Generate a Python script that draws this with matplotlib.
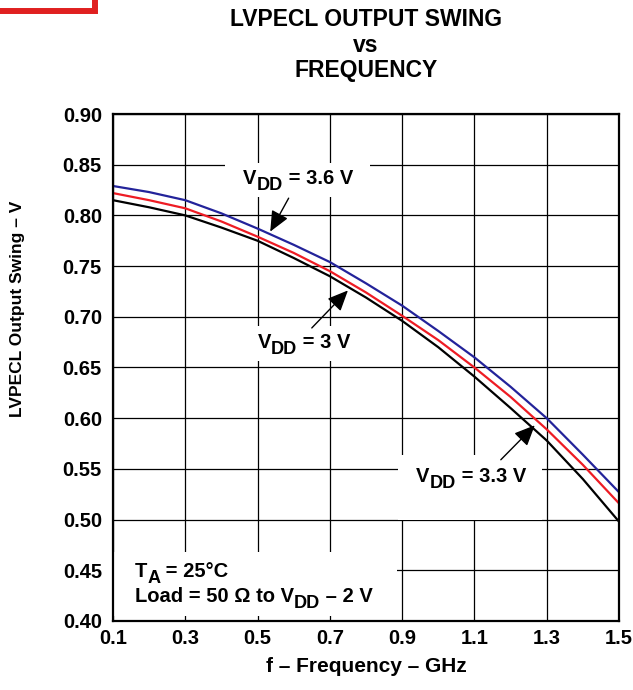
import matplotlib
matplotlib.use('Agg')
import matplotlib.pyplot as plt
import matplotlib.transforms as mtransforms
from matplotlib.patches import Rectangle

plt.rcParams['font.family'] = ['Liberation Sans', 'DejaVu Sans']
plt.rcParams['font.weight'] = 'bold'

# frequency (GHz) and output swing (V)
freq = [0.1, 0.2, 0.3, 0.4, 0.5, 0.6, 0.7, 0.8, 0.9, 1.0, 1.1, 1.2, 1.3, 1.4, 1.5]
swing_36 = [0.829, 0.823, 0.815, 0.802, 0.787, 0.771, 0.754, 0.733, 0.711,
            0.686, 0.660, 0.631, 0.600, 0.564, 0.527]
swing_33 = [0.822, 0.815, 0.807, 0.794, 0.779, 0.763, 0.745, 0.724, 0.701,
            0.677, 0.650, 0.621, 0.589, 0.554, 0.516]
swing_30 = [0.815, 0.808, 0.800, 0.788, 0.775, 0.758, 0.740, 0.719, 0.696,
            0.670, 0.641, 0.610, 0.578, 0.540, 0.498]

x_ticks = [0.1, 0.3, 0.5, 0.7, 0.9, 1.1, 1.3, 1.5]
y_ticks = [0.40, 0.45, 0.50, 0.55, 0.60, 0.65, 0.70, 0.75, 0.80, 0.85, 0.90]

W, H = 633, 690
fig = plt.figure(figsize=(W / 100, H / 100), dpi=100)
ax = fig.add_axes([113 / W, 69 / H, 506 / W, 507 / H])

ax.plot(freq, swing_36, color='#23239a', lw=1.6, zorder=4)
ax.plot(freq, swing_33, color='#ee1c24', lw=1.6, zorder=4)
ax.plot(freq, swing_30, color='black', lw=1.6, zorder=4)

ax.set_xlim(0.1, 1.5)
ax.set_ylim(0.40, 0.90)
ax.set_xticks(x_ticks)
ax.set_yticks(y_ticks)
ax.set_xticklabels([f'{v:.1f}' for v in x_ticks])
ax.set_yticklabels([f'{v:.2f}' for v in y_ticks])
ax.tick_params(length=0, labelsize=14.5)
ax.tick_params(axis='y', pad=8)
ax.tick_params(axis='x', pad=6)
ax.grid(True, color='black', lw=0.9)
ax.set_axisbelow(True)
for s in ax.spines.values():
    s.set_linewidth(1.6)
    s.set_zorder(6)

# white boxes behind labels hiding the grid
white = dict(facecolor='white', edgecolor='none', zorder=2)
ax.add_patch(Rectangle((0.41, 0.818), 0.40, 0.034, **white))
ax.add_patch(Rectangle((0.49, 0.656), 0.28, 0.035, **white))
ax.add_patch(Rectangle((0.888, 0.50), 0.40, 0.0635, **white))
ax.add_patch(Rectangle((0.10, 0.405), 0.786, 0.063, **white))

renderer = fig.canvas.get_renderer()
fs = 14.5


def rich(x, y, parts):
    # parts: (text, drop in pixels, size factor); drawn one after another
    tr = ax.transData
    for s, drop, k in parts:
        t = ax.text(x, y, s, fontsize=fs * k, va='baseline', zorder=5,
                    transform=mtransforms.offset_copy(tr, fig=fig, y=-drop, units='dots'))
        ex = t.get_window_extent(renderer)
        tr = mtransforms.offset_copy(tr, fig=fig, x=ex.width, units='dots')


arrow = dict(arrowstyle='-|>,head_length=0.9,head_width=0.4',
             mutation_scale=14, color='black', lw=1, shrinkA=0, shrinkB=0)

ax.annotate('', xy=(0.535, 0.784), xytext=(0.586, 0.817), arrowprops=arrow, zorder=5)
rich(0.4605, 0.831, [('V', 0, 1), ('DD', 6, 0.9), (' = 3.6 V', 0, 1)])

ax.annotate('', xy=(0.75, 0.726), xytext=(0.65, 0.689), arrowprops=arrow, zorder=5)
rich(0.50, 0.669, [('V', 0, 1), ('DD', 6, 0.9), (' = 3 V', 0, 1)])

ax.annotate('', xy=(1.267, 0.593), xytext=(1.173, 0.559), arrowprops=arrow, zorder=5)
rich(0.939, 0.537, [('V', 0, 1), ('DD', 6, 0.9), (' = 3.3 V', 0, 1)])

rich(0.16, 0.4435, [('T', 0, 1), ('A', 6, 0.9), (' = 25°C', 0, 1)])
rich(0.16, 0.4185, [('Load = 50 Ω to V', 0, 1), ('DD', 6, 0.9), (' – 2 V', 0, 1)])

# title and axis labels
cx = 366 / W
fig.text(cx, 1 - 20 / H, 'LVPECL OUTPUT SWING', ha='center', va='center', fontsize=16.5)
fig.text(cx, 1 - 45 / H, 'vs', ha='center', va='center', fontsize=16.5)
fig.text(cx, 1 - 70 / H, 'FREQUENCY', ha='center', va='center', fontsize=16.5)
fig.text(cx, 1 - 667 / H, 'f – Frequency – GHz', ha='center', va='center', fontsize=15)
fig.text(18 / W, 1 - 309 / H, 'LVPECL Output Swing – V', ha='center', va='center',
         rotation=90, fontsize=12.5)

# cropped red frame in the top-left corner
fig.patches.append(Rectangle((-10, H - 11), 105, 30, transform=None, fill=False,
                             edgecolor='#e02020', lw=4.3))

fig.savefig('out.png', dpi=100)
